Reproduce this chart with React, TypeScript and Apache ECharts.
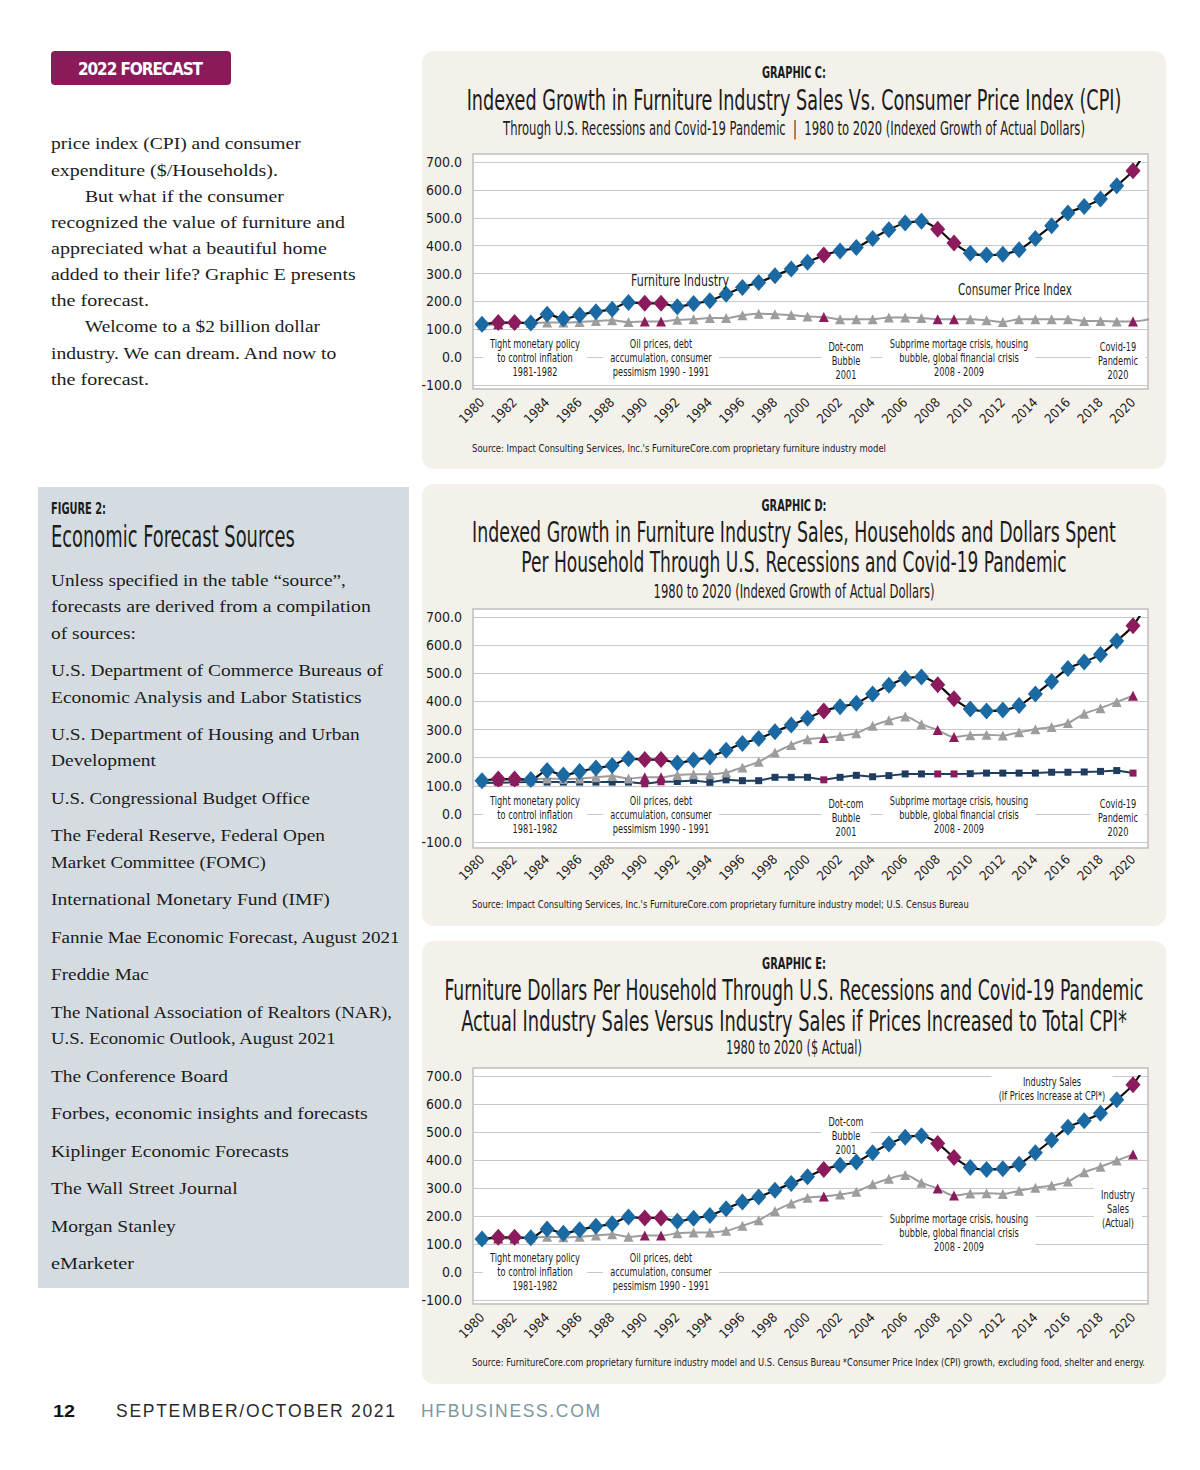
import React, { useEffect, useRef } from "react";
import * as echarts from "echarts";

// ---------- DATA ----------
const years = [
  1980, 1981, 1982, 1983, 1984, 1985, 1986, 1987, 1988, 1989,
  1990, 1991, 1992, 1993, 1994, 1995, 1996, 1997, 1998, 1999,
  2000, 2001, 2002, 2003, 2004, 2005, 2006, 2007, 2008, 2009,
  2010, 2011, 2012, 2013, 2014, 2015, 2016, 2017, 2018, 2019,
  2020, 2021,
];
const tickYears = [
  1980, 1982, 1984, 1986, 1988, 1990, 1992, 1994, 1996, 1998, 2000,
  2002, 2004, 2006, 2008, 2010, 2012, 2014, 2016, 2018, 2020,
];
const recessionYears = [1981, 1982, 1990, 1991, 2001, 2008, 2009, 2020];

// Furniture industry sales (indexed) – same in C, D, E
const furnitureSales = [
  118, 124, 124, 122, 154, 138, 151, 163, 172, 196,
  193, 193, 181, 192, 202, 226, 250, 268, 292, 316,
  340, 366, 381, 393, 426, 457, 481, 487, 459, 409,
  373, 366, 369, 385, 426, 471, 517, 540, 567, 615,
  669, 760,
];
// Consumer price index (Graphic C)
const consumerPriceIndex = [
  114, 118, 124, 122, 124, 124, 126, 130, 132, 126,
  128, 128, 134, 136, 140, 140, 150, 156, 154, 151,
  146, 144, 136, 136, 136, 142, 142, 140, 136, 136,
  136, 132, 126, 136, 136, 136, 136, 130, 130, 128,
  128, 136,
];
// Industry sales actual / dollars per household (Graphic D, E)
const industrySalesActual = [
  118, 120, 120, 122, 126, 124, 126, 130, 135, 126,
  130, 130, 138, 141, 141, 147, 165, 185, 218, 245,
  265, 270, 277, 287, 313, 333, 346, 319, 298, 273,
  280, 281, 279, 290, 301, 309, 323, 356, 376, 398,
  420, null,
];
// Households (Graphic D)
const households = [
  110, 111, 112, 113, 113, 113, 113, 113, 113, 113,
  107, 114, 115, 119, 112, 121, 118, 118, 130, 130,
  130, 121, 130, 137, 132, 136, 142, 142, 142, 142,
  143, 145, 145, 145, 145, 148, 148, 149, 151, 154,
  145, null,
];

const yMin = -100;
const yMax = 700;
const yStep = 100;

// ---------- STYLE ----------
const PURPLE = "#8b1b5c";
const BLUE = "#1b69a2";
const GRAY = "#9d9d9d";
const NAVY = "#1f3d5f";
const COND = '"Liberation Sans Narrow", "DejaVu Sans Condensed", Roboto, sans-serif';
const SERIF = '"Liberation Serif", "DejaVu Serif", serif';
const SANS = '"Liberation Sans", Arial, sans-serif';

let measureCtx: CanvasRenderingContext2D | null = null;
function getCtx() {
  if (!measureCtx) measureCtx = document.createElement("canvas").getContext("2d");
  return measureCtx as CanvasRenderingContext2D;
}
function fit(text: string, font: string, target: number) {
  const ctx = getCtx();
  ctx.font = font;
  const w = Math.max(...text.split("\n").map((l) => ctx.measureText(l).width));
  return w > 0 ? target / w : 1;
}

function textEl(
  text: string,
  x: number,
  y: number,
  font: string,
  target: number,
  opts: any = {}
) {
  const align = opts.align || "left";
  return {
    type: "text",
    x,
    y,
    scaleX: fit(text, font, target),
    z: opts.z ?? 10,
    style: {
      text,
      font,
      fill: opts.fill || "#1c1c1c",
      align,
      textAlign: align,
      verticalAlign: "middle",
      textVerticalAlign: "middle",
      ...(opts.style || {}),
    },
  };
}

// letter-spaced text, one element per character
function spacedText(text: string, x0: number, x1: number, y: number, font: string, fill: string) {
  const ctx = getCtx();
  ctx.font = font;
  const chars = text.split("");
  const widths = chars.map((c) => ctx.measureText(c).width);
  const total = widths.reduce((a, b) => a + b, 0);
  const gap = (x1 - x0 - total) / Math.max(1, chars.length - 1);
  const out: any[] = [];
  let x = x0;
  chars.forEach((c, i) => {
    out.push({
      type: "text",
      x,
      y,
      z: 10,
      style: { text: c, font, fill, align: "left", textAlign: "left", verticalAlign: "middle", textVerticalAlign: "middle" },
    });
    x += widths[i] + gap;
  });
  return out;
}

const ANNOT_FONT = `11.5px ${COND}`;
let annotScale = 1;
function annot(lines: string[], cx: number, cy: number) {
  return {
    type: "text",
    x: cx,
    y: cy,
    scaleX: annotScale,
    z: 3,
    style: {
      text: lines.join("\n"),
      font: ANNOT_FONT,
      fill: "#1c1c1c",
      align: "center",
      textAlign: "center",
      verticalAlign: "middle",
      textVerticalAlign: "middle",
      lineHeight: 14,
      backgroundColor: "#ffffff",
      padding: [1, 9],
    },
  };
}

function pts(vals: (number | null)[]) {
  const out: any[] = [];
  years.forEach((y, i) => {
    const v = vals[i];
    if (v == null) return;
    out.push({
      value: [y, v],
      itemStyle: recessionYears.includes(y) ? { color: PURPLE } : undefined,
    });
  });
  return out;
}

function furnitureSeries(g: number) {
  return {
    type: "line",
    xAxisIndex: g,
    yAxisIndex: g,
    data: pts(furnitureSales),
    symbol: "diamond",
    symbolSize: [15, 17],
    smooth: 0.3,
    lineStyle: { color: "#111", width: 2.2 },
    itemStyle: { color: BLUE },
    z: 6,
    animation: false,
  };
}
function graySeries(g: number, vals: (number | null)[]) {
  return {
    type: "line",
    xAxisIndex: g,
    yAxisIndex: g,
    data: pts(vals),
    symbol: "triangle",
    symbolSize: 10,
    smooth: 0.3,
    lineStyle: { color: GRAY, width: 2 },
    itemStyle: { color: GRAY },
    z: 5,
    animation: false,
  };
}
function householdSeries(g: number) {
  return {
    type: "line",
    xAxisIndex: g,
    yAxisIndex: g,
    data: pts(households),
    symbol: "rect",
    symbolSize: 7,
    lineStyle: { color: NAVY, width: 2 },
    itemStyle: { color: NAVY },
    z: 5,
    animation: false,
  };
}

export default function App() {
  const ref = useRef<HTMLDivElement>(null);
  useEffect(() => {
    if (!ref.current) return;
    const chart = echarts.init(ref.current, undefined, { renderer: "svg" });
    annotScale = fit("Tight monetary policy", ANNOT_FONT, 90);

    const grids = [
      { left: 473, width: 675, top: 162, height: 223 },
      { left: 473, width: 675, top: 617, height: 225 },
      { left: 473, width: 675, top: 1076, height: 224 },
    ];
    const frames = [
      [473, 154, 675, 235],
      [473, 609, 675, 239],
      [473, 1068, 675, 236],
    ];

    const xAxes = grids.map((_, i) => ({
      type: "value",
      gridIndex: i,
      min: 1979.447,
      max: 2020.92,
      axisLine: { show: false },
      axisTick: { show: false },
      splitLine: { show: false },
      axisLabel: {
        customValues: tickYears,
        rotate: 45,
        margin: 15,
        fontSize: 13,
        fontFamily: COND,
        color: "#1c1c1c",
        formatter: (v: number) => String(v),
      },
    }));
    const yAxes = grids.map((_, i) => ({
      type: "value",
      gridIndex: i,
      min: yMin,
      max: yMax,
      interval: yStep,
      axisLine: { show: false },
      axisTick: { show: false },
      splitLine: { lineStyle: { color: "#c8c8c8", width: 1 } },
      axisLabel: {
        fontSize: 14,
        fontFamily: COND,
        color: "#1c1c1c",
        margin: 11,
        formatter: (v: number) => v.toFixed(1),
      },
    }));

    const graphics: any[] = [];
    // backgrounds
    graphics.push(
      { type: "rect", z: -3, shape: { x: 422, y: 51, width: 744, height: 418, r: 12 }, style: { fill: "#f4f0ea" } },
      { type: "rect", z: -3, shape: { x: 422, y: 484, width: 744, height: 442, r: 12 }, style: { fill: "#f4f0ea" } },
      { type: "rect", z: -3, shape: { x: 422, y: 941, width: 744, height: 443, r: 12 }, style: { fill: "#f4f0ea" } },
      { type: "rect", z: -3, shape: { x: 38, y: 487, width: 371, height: 801 }, style: { fill: "#d4dce2" } },
      { type: "rect", z: -3, shape: { x: 51, y: 51, width: 180, height: 34, r: 4 }, style: { fill: "#8a1a5a" } }
    );
    frames.forEach(([x, y, w, h]) =>
      graphics.push({
        type: "rect",
        z: -2,
        shape: { x, y, width: w, height: h },
        style: { fill: "#ffffff", stroke: "#bfbfbf", lineWidth: 1.5 },
      })
    );

    // badge
    graphics.push(...spacedText("2022 FORECAST", 78, 203, 69, `bold 17px ${COND}`, "#ffffff"));

    // left column text
    const body = `17px ${SERIF}`;
    const para: [string, number, number, number][] = [
      ["price index (CPI) and consumer", 51, 143, 301],
      ["expenditure ($/Households).", 51, 170, 278],
      ["But what if the consumer", 85, 196, 284],
      ["recognized the value of furniture and", 51, 222, 345],
      ["appreciated what a beautiful home", 51, 248, 327],
      ["added to their life? Graphic E presents", 51, 274, 356],
      ["the forecast.", 51, 300, 149],
      ["Welcome to a $2 billion dollar", 85, 326, 320],
      ["industry. We can dream. And now to", 51, 353, 338],
      ["the forecast.", 51, 379, 149],
      ["Unless specified in the table \u201csource\u201d,", 51, 580, 346],
      ["forecasts are derived from a compilation", 51, 606, 371],
      ["of sources:", 51, 633, 136],
      ["U.S. Department of Commerce Bureaus of", 51, 670, 383],
      ["Economic Analysis and Labor Statistics", 51, 697, 363],
      ["U.S. Department of Housing and Urban", 51, 734, 360],
      ["Development", 51, 760, 156],
      ["U.S. Congressional Budget Office", 51, 798, 310],
      ["The Federal Reserve, Federal Open", 51, 835, 325],
      ["Market Committee (FOMC)", 51, 862, 266],
      ["International Monetary Fund (IMF)", 51, 899, 330],
      ["Fannie Mae Economic Forecast, August 2021", 51, 937, 401],
      ["Freddie Mac", 51, 974, 149],
      ["The National Association of Realtors (NAR),", 51, 1012, 393],
      ["U.S. Economic Outlook, August 2021", 51, 1038, 337],
      ["The Conference Board", 51, 1076, 228],
      ["Forbes, economic insights and forecasts", 51, 1113, 368],
      ["Kiplinger Economic Forecasts", 51, 1151, 289],
      ["The Wall Street Journal", 51, 1188, 238],
      ["Morgan Stanley", 51, 1226, 176],
      ["eMarketer", 51, 1263, 134],
    ];
    para.forEach(([t, x, y, r]) => graphics.push(textEl(t, x, y, body, r - x)));
    graphics.push(
      textEl("FIGURE 2:", 51, 509, `bold 15px ${COND}`, 55),
      textEl("Economic Forecast Sources", 51, 536, `30px ${COND}`, 244)
    );

    // footer
    graphics.push(textEl("12", 53, 1411, `bold 17px ${SANS}`, 22, { fill: "#111" }));
    graphics.push(...spacedText("SEPTEMBER/OCTOBER 2021", 116, 395, 1411, `17.5px ${SANS}`, "#2a2a2a"));
    graphics.push(...spacedText("HFBUSINESS.COM", 421, 600, 1411, `17.5px ${SANS}`, "#7c97a0"));

    // chart titles
    const cx = 794;
    const t = (s: string, y: number, font: string, w: number) =>
      graphics.push(textEl(s, cx, y, font, w, { align: "center" }));
    t("GRAPHIC C:", 73, `bold 15px ${COND}`, 64);
    t("Indexed Growth in Furniture Industry Sales Vs. Consumer Price Index (CPI)", 101, `28px ${COND}`, 655);
    t("Through U.S. Recessions and Covid-19 Pandemic  |  1980 to 2020 (Indexed Growth of Actual Dollars)", 129, `19px ${COND}`, 582);
    t("GRAPHIC D:", 506, `bold 15px ${COND}`, 65);
    t("Indexed Growth in Furniture Industry Sales, Households and Dollars Spent", 533, `28px ${COND}`, 644);
    t("Per Household Through U.S. Recessions and Covid-19 Pandemic", 563, `28px ${COND}`, 546);
    t("1980 to 2020 (Indexed Growth of Actual Dollars)", 592, `19px ${COND}`, 281);
    t("GRAPHIC E:", 964, `bold 15px ${COND}`, 64);
    t("Furniture Dollars Per Household Through U.S. Recessions and Covid-19 Pandemic", 991, `28px ${COND}`, 700);
    t("Actual Industry Sales Versus Industry Sales if Prices Increased to Total CPI*", 1021, `28px ${COND}`, 666);
    t("1980 to 2020 ($ Actual)", 1048, `19px ${COND}`, 136);

    // sources
    const src = `10.5px ${COND}`;
    graphics.push(
      textEl("Source: Impact Consulting Services, Inc.'s FurnitureCore.com proprietary furniture industry model", 472, 448, src, 414),
      textEl("Source: Impact Consulting Services, Inc.'s FurnitureCore.com proprietary furniture industry model; U.S. Census Bureau", 472, 904, src, 498),
      textEl("Source: FurnitureCore.com proprietary furniture industry model and U.S. Census Bureau *Consumer Price Index (CPI) growth, excluding food, shelter and energy.", 472, 1362, src, 674)
    );

    // annotations
    const tight = ["Tight monetary policy", "to control inflation", "1981-1982"];
    const oil = ["Oil prices, debt", "accumulation, consumer", "pessimism 1990 - 1991"];
    const dot = ["Dot-com", "Bubble", "2001"];
    const sub = ["Subprime mortage crisis, housing", "bubble, global financial crisis", "2008 - 2009"];
    const covid = ["Covid-19", "Pandemic", "2020"];
    [0, 457].forEach((dy) => {
      graphics.push(
        annot(tight, 535, 358 + dy),
        annot(oil, 661, 358 + dy),
        annot(dot, 846, 361 + dy),
        annot(sub, 959, 358 + dy),
        annot(covid, 1118, 361 + dy)
      );
    });
    graphics.push(
      annot(tight, 535, 1272),
      annot(oil, 661, 1272),
      annot(dot, 846, 1136),
      annot(sub, 959, 1233),
      annot(["Industry Sales", "(If Prices Increase at CPI*)"], 1052, 1089),
      annot(["Industry", "Sales", "(Actual)"], 1118, 1209)
    );
    graphics.push(
      textEl("Furniture Industry", 680, 281, `15px ${COND}`, 98, { align: "center" }),
      textEl("Consumer Price Index", 1015, 290, `15px ${COND}`, 114, { align: "center" })
    );

    const option: any = {
      animation: false,
      grid: grids,
      xAxis: xAxes,
      yAxis: yAxes,
      series: [
        graySeries(0, consumerPriceIndex),
        furnitureSeries(0),
        householdSeries(1),
        graySeries(1, industrySalesActual),
        furnitureSeries(1),
        graySeries(2, industrySalesActual),
        furnitureSeries(2),
      ],
      graphic: { elements: graphics },
    };
    chart.setOption(option);
    return () => chart.dispose();
  }, []);

  return (
    <div
      ref={ref}
      style={{ position: "absolute", left: 0, top: 0, width: 1200, height: 1470, background: "#fff" }}
    />
  );
}
